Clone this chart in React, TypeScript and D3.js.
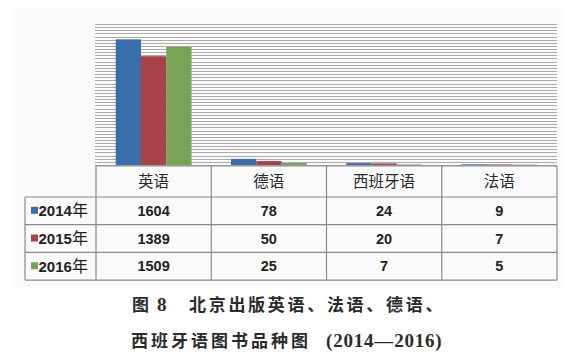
import React from 'react';
import * as d3 from 'd3';

const categories = ['英语', '德语', '西班牙语', '法语'];
const years = ['2014年', '2015年', '2016年'];
const values2014 = [1604, 78, 24, 9];
const values2015 = [1389, 50, 20, 7];
const values2016 = [1509, 25, 7, 5];
const colors = ['#3b6daa', '#a8434a', '#78a455'];
const yMax = 1800;
const gridStep = 40;

const App = () => {
  const width = 574;
  const height = 362;
  const plot = { left: 96, right: 557, top: 24, bottom: 165 };
  const table = { left: 25, top: 166, header: 197, rowH: 27.7 };

  const series = [values2014, values2015, values2016];

  const xScale = d3
    .scaleBand()
    .domain(categories)
    .range([plot.left, plot.right])
    .paddingInner(0)
    .paddingOuter(0);

  // bars sit in the middle two thirds of each column
  const inner = d3
    .scaleBand()
    .domain(years)
    .range([0, xScale.bandwidth()])
    .paddingOuter(0.78)
    .paddingInner(0);

  const yScale = d3.scaleLinear().domain([0, yMax]).range([plot.bottom, plot.top]);
  const gridValues = d3.range(0, yMax + 1, gridStep);

  const rowY = (i) => table.header + i * table.rowH;
  const tableBottom = rowY(years.length);
  const colEdges = categories.map(c => xScale(c)).concat([plot.right]);

  return (
    <svg
      width={width}
      height={height}
      viewBox={`0 0 ${width} ${height}`}
      style={{ position: 'absolute', left: 0, top: 0, background: '#fff' }}
    >
      <rect x={12} y={7} width={552} height={282} fill='#fafafa' />
      {gridValues.map(v => (
        <line
          key={`grid-${v}`}
          x1={plot.left - 1}
          x2={plot.right}
          y1={Math.round(yScale(v)) + 0.5}
          y2={Math.round(yScale(v)) + 0.5}
          stroke='#ababab'
          strokeWidth={1}
        />
      ))}
      {categories.map((c, ci) =>
        years.map((y, si) => (
          <rect
            key={`bar-${ci}-${si}`}
            x={xScale(c) + inner(y)}
            y={yScale(series[si][ci])}
            width={inner.bandwidth()}
            height={plot.bottom - yScale(series[si][ci])}
            fill={colors[si]}
          />
        ))
      )}
      <g stroke='#8a8a8a' strokeWidth={1.2}>
        <line x1={plot.left} x2={plot.right} y1={table.top} y2={table.top} />
        {d3.range(years.length + 1).map(i => (
          <line key={`hl-${i}`} x1={table.left} x2={plot.right} y1={rowY(i)} y2={rowY(i)} />
        ))}
        <line x1={table.left} x2={table.left} y1={table.header} y2={tableBottom} />
        {colEdges.map((x, i) => (
          <line key={`vl-${i}`} x1={x} x2={x} y1={table.top} y2={tableBottom} />
        ))}
      </g>
      <g fontFamily="'Noto Sans CJK SC', sans-serif" fontSize={15.5} fill='#2a2a2a' textAnchor='middle'>
        {categories.map(c => (
          <text key={`hd-${c}`} x={xScale(c) + xScale.bandwidth() / 2} y={(table.top + table.header) / 2} dy='0.36em'>
            {c}
          </text>
        ))}
      </g>
      {years.map((y, si) => (
        <g key={`row-${y}`}>
          <rect x={31} y={(rowY(si) + rowY(si + 1)) / 2 - 4} width={7} height={7} fill={colors[si]} />
          <text
            x={38.5}
            y={(rowY(si) + rowY(si + 1)) / 2}
            dy='0.36em'
            fontFamily="'Liberation Sans', 'Noto Sans CJK SC', sans-serif"
            fontWeight='bold'
            fontSize={15}
            fill='#222'
          >
            {y.replace('年', '')}
            <tspan fontFamily="'Noto Sans CJK SC', sans-serif" fontWeight='normal' fontSize={16}>年</tspan>
          </text>
          {categories.map((c, ci) => (
            <text
              key={`cell-${si}-${ci}`}
              x={xScale(c) + xScale.bandwidth() / 2}
              y={(rowY(si) + rowY(si + 1)) / 2}
              dy='0.36em'
              textAnchor='middle'
              fontFamily="'Liberation Sans', sans-serif"
              fontWeight='bold'
              fontSize={14.5}
              fill='#222'
            >
              {series[si][ci]}
            </text>
          ))}
        </g>
      ))}
      <g fill='#2b2b2b' fontSize={17}>
        <text x={132} y={305} dy='0.36em' fontFamily="'Noto Sans CJK SC', sans-serif" fontWeight='bold'>
          图
          <tspan x={157} fontFamily="'Liberation Serif', serif" fontWeight='bold' fontSize={19}>8</tspan>
          <tspan x={189} letterSpacing={2.7}>北京出版英语、法语、德语、</tspan>
        </text>
        <text x={131} y={341} dy='0.36em' fontFamily="'Noto Sans CJK SC', sans-serif" fontWeight='bold'>
          <tspan letterSpacing={3}>西班牙语图书品种图</tspan>
          <tspan x={326} fontFamily="'Liberation Serif', serif" fontWeight='bold' fontSize={19} letterSpacing={0.8}>
            (2014—2016)
          </tspan>
        </text>
      </g>
    </svg>
  );
};

export default App;
